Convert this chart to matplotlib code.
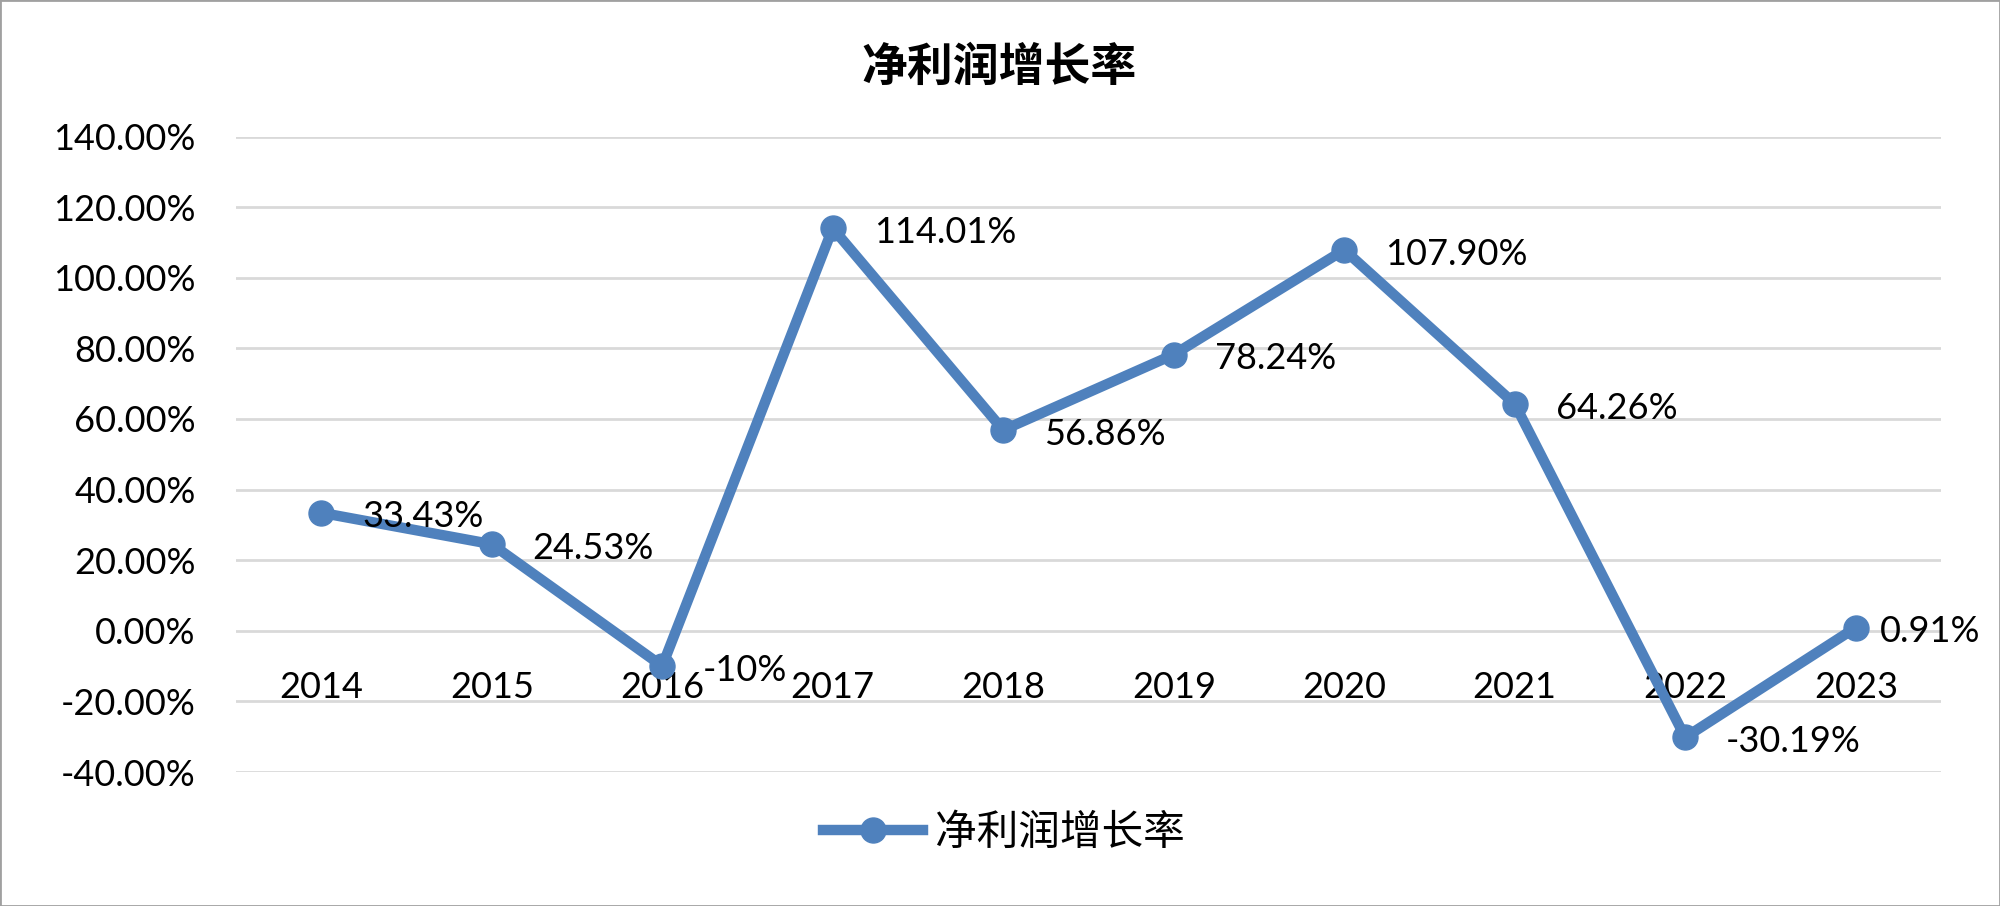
import matplotlib
matplotlib.use('Agg')
import matplotlib.pyplot as plt
from matplotlib.patches import Rectangle
from matplotlib.ticker import FuncFormatter

plt.rcParams['font.family'] = ['Lato', 'Noto Sans CJK SC', 'DejaVu Sans']

years = ['2014', '2015', '2016', '2017', '2018', '2019', '2020', '2021', '2022', '2023']
growth = [33.43, 24.53, -10, 114.01, 56.86, 78.24, 107.90, 64.26, -30.19, 0.91]
point_labels = ['33.43%', '24.53%', '-10%', '114.01%', '56.86%', '78.24%',
                '107.90%', '64.26%', '-30.19%', '0.91%']
series_name = '净利润增长率'

blue = '#4F81BD'
cjk = ['Noto Sans CJK SC', 'DejaVu Sans']

fig = plt.figure(figsize=(20, 9.06), dpi=100)
ax = fig.add_axes([0.118, 0.1479, 0.8525, 0.7014])

x = list(range(len(years)))
ax.plot(x, growth, color=blue, lw=7.5, marker='o', markersize=18,
        solid_joinstyle='round', label=series_name, zorder=3)

ax.set_xlim(-0.5, len(years) - 0.5)
ax.set_ylim(-40, 140)
ax.set_yticks(range(-40, 141, 20))
ax.yaxis.set_major_formatter(FuncFormatter(lambda v, p: f'{v:.2f}%'))
ax.set_xticks(x)
ax.set_xticklabels(years)
ax.grid(axis='y', color='#D9D9D9', lw=2)
ax.set_axisbelow(True)
for s in ax.spines.values():
    s.set_visible(False)
ax.spines['bottom'].set_position(('data', 0))
ax.tick_params(axis='both', length=0, labelsize=26)
ax.tick_params(axis='x', pad=29)
ax.tick_params(axis='y', pad=29)

# data labels to the right of each point, kept inside the figure
fig.canvas.draw()
renderer = fig.canvas.get_renderer()
dx = 29.5
for xi, yi, lab in zip(x, growth, point_labels):
    t = ax.annotate(lab, (xi, yi), xytext=(dx, -3), textcoords='offset points',
                    ha='left', va='center', fontsize=26, zorder=4)
    bb = t.get_window_extent(renderer)
    over = bb.x1 - (fig.bbox.width - 20)
    if over > 0:
        t.set_position((dx - over * 72 / fig.dpi, -3))

fig.text(0.4995, 1 - 68 / 906, series_name, ha='center', va='center',
         fontsize=33, fontweight='bold', family=cjk)

leg = fig.legend(loc='center', bbox_to_anchor=(0.502, 1 - 833 / 906),
                 frameon=False, handlelength=2.4, handletextpad=0.3,
                 prop={'family': cjk, 'size': 30})

fig.patches.append(Rectangle((0, 0), 1, 1, transform=fig.transFigure,
                             fill=False, edgecolor='#A0A0A0', lw=2))

fig.savefig('out.png', dpi=100)
